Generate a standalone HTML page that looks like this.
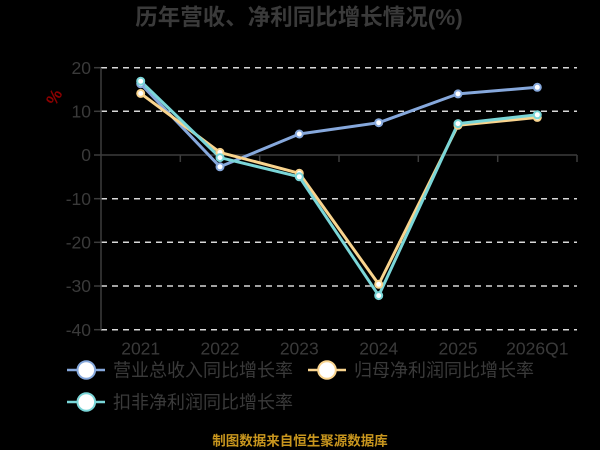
<!DOCTYPE html>
<html>
<head>
<meta charset="utf-8">
<style>
html,body{margin:0;padding:0;background:#000;}
body{width:600px;height:450px;overflow:hidden;}
svg{display:block;}
text{font-family:"Liberation Sans","Noto Sans CJK SC",sans-serif;}
</style>
</head>
<body>
<svg width="600" height="450" viewBox="0 0 600 450" xmlns="http://www.w3.org/2000/svg">
<rect x="0" y="0" width="600" height="450" fill="#000"/>
<!-- title -->
<text x="299" y="25" text-anchor="middle" font-size="22.5" font-weight="bold" fill="#3a3a3a">历年营收、净利同比增长情况(%)</text>

<!-- grid lines -->
<g stroke="#d8d8d8" stroke-width="1.5" stroke-dasharray="6,5" fill="none">
<line x1="101" y1="67.7" x2="577" y2="67.7"/>
<line x1="101" y1="111.3" x2="577" y2="111.3"/>
<line x1="101" y1="198.7" x2="577" y2="198.7"/>
<line x1="101" y1="242.3" x2="577" y2="242.3"/>
<line x1="101" y1="286" x2="577" y2="286"/>
<line x1="101" y1="329.7" x2="577" y2="329.7"/>
</g>

<!-- axes -->
<g stroke="#3c3c3c" stroke-width="1.5" fill="none">
<line x1="101" y1="67.7" x2="101" y2="329.7"/>
<line x1="101" y1="155" x2="577" y2="155"/>
<line x1="94" y1="67.7" x2="101" y2="67.7"/>
<line x1="94" y1="111.3" x2="101" y2="111.3"/>
<line x1="94" y1="155" x2="101" y2="155"/>
<line x1="94" y1="198.7" x2="101" y2="198.7"/>
<line x1="94" y1="242.3" x2="101" y2="242.3"/>
<line x1="94" y1="286" x2="101" y2="286"/>
<line x1="94" y1="329.7" x2="101" y2="329.7"/>
<line x1="180.3" y1="155" x2="180.3" y2="162"/>
<line x1="259.7" y1="155" x2="259.7" y2="162"/>
<line x1="339" y1="155" x2="339" y2="162"/>
<line x1="418.3" y1="155" x2="418.3" y2="162"/>
<line x1="497.7" y1="155" x2="497.7" y2="162"/>
<line x1="577" y1="155" x2="577" y2="162"/>
</g>

<!-- y labels -->
<g font-size="17.5" fill="#3a3a3a" text-anchor="end">
<text x="91" y="74">20</text>
<text x="91" y="117.5">10</text>
<text x="91" y="161">0</text>
<text x="91" y="205">-10</text>
<text x="91" y="248.5">-20</text>
<text x="91" y="292">-30</text>
<text x="91" y="336">-40</text>
</g>
<text x="0" y="0" font-size="17" font-weight="bold" fill="#8b0000" text-anchor="middle" transform="translate(54,97) rotate(-60)" dy="6">%</text>

<!-- x labels -->
<g font-size="17.5" fill="#3a3a3a" text-anchor="middle">
<text x="140.7" y="354.5">2021</text>
<text x="220" y="354.5">2022</text>
<text x="299.3" y="354.5">2023</text>
<text x="378.7" y="354.5">2024</text>
<text x="458" y="354.5">2025</text>
<text x="537.3" y="354.5">2026Q1</text>
</g>

<!-- series -->
<polyline fill="none" stroke="#86a8dc" stroke-width="3" stroke-linejoin="round" points="140.7,83.8 220,166.8 299.3,134 378.7,122.7 458,93.9 537.3,87.3"/>
<polyline fill="none" stroke="#f9d48e" stroke-width="3" stroke-linejoin="round" points="140.7,93.4 220,152.4 299.3,173.3 378.7,284.3 458,125.3 537.3,117.4"/>
<polyline fill="none" stroke="#7ad6d8" stroke-width="3" stroke-linejoin="round" points="140.7,81.2 220,157.6 299.3,176.8 378.7,295.6 458,123.6 537.3,114.8"/>

<!-- markers -->
<g fill="#fff" stroke="#86a8dc" stroke-width="2">
<circle cx="140.7" cy="83.8" r="3.5"/>
<circle cx="220" cy="166.8" r="3.5"/>
<circle cx="299.3" cy="134" r="3.5"/>
<circle cx="378.7" cy="122.7" r="3.5"/>
<circle cx="458" cy="93.9" r="3.5"/>
<circle cx="537.3" cy="87.3" r="3.5"/>
</g>
<g fill="#fff" stroke="#f9d48e" stroke-width="2">
<circle cx="140.7" cy="93.4" r="3.5"/>
<circle cx="220" cy="152.4" r="3.5"/>
<circle cx="299.3" cy="173.3" r="3.5"/>
<circle cx="378.7" cy="284.3" r="3.5"/>
<circle cx="458" cy="125.3" r="3.5"/>
<circle cx="537.3" cy="117.4" r="3.5"/>
</g>
<g fill="#fff" stroke="#7ad6d8" stroke-width="2">
<circle cx="140.7" cy="81.2" r="3.5"/>
<circle cx="220" cy="157.6" r="3.5"/>
<circle cx="299.3" cy="176.8" r="3.5"/>
<circle cx="378.7" cy="295.6" r="3.5"/>
<circle cx="458" cy="123.6" r="3.5"/>
<circle cx="537.3" cy="114.8" r="3.5"/>
</g>

<!-- legend -->
<g>
<line x1="67" y1="370" x2="105" y2="370" stroke="#86a8dc" stroke-width="2.5"/>
<circle cx="86.3" cy="370" r="8.8" fill="#fff" stroke="#86a8dc" stroke-width="2"/>
<text x="113" y="376.5" font-size="18" fill="#3a3a3a">营业总收入同比增长率</text>

<line x1="308" y1="370" x2="346" y2="370" stroke="#f9d48e" stroke-width="2.5"/>
<circle cx="327" cy="370" r="8.8" fill="#fff" stroke="#f9d48e" stroke-width="2"/>
<text x="354" y="376.5" font-size="18" fill="#3a3a3a">归母净利润同比增长率</text>

<line x1="67" y1="402" x2="105" y2="402" stroke="#7ad6d8" stroke-width="2.5"/>
<circle cx="86.3" cy="402" r="8.8" fill="#fff" stroke="#7ad6d8" stroke-width="2"/>
<text x="113" y="408.5" font-size="18" fill="#3a3a3a">扣非净利润同比增长率</text>
</g>

<!-- footer -->
<text x="300" y="445.5" text-anchor="middle" font-size="13.5" font-weight="bold" fill="#c8961e">制图数据来自恒生聚源数据库</text>
</svg>
</body>
</html>
